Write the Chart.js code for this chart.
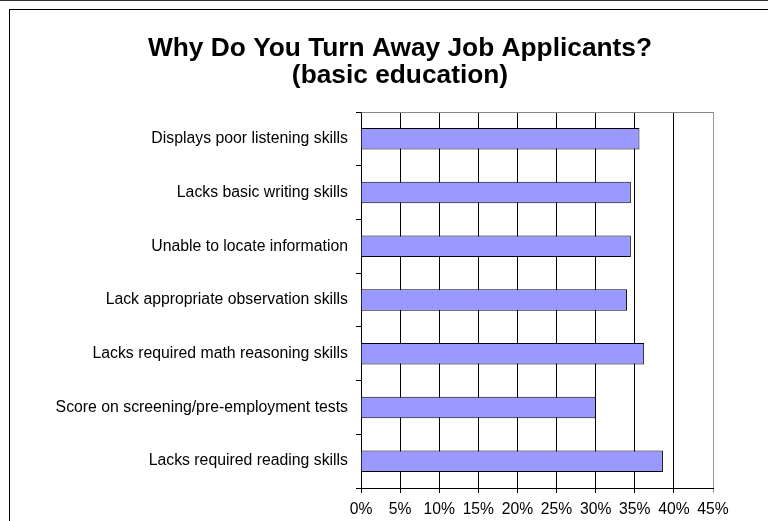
<!DOCTYPE html>
<html>
<head>
<meta charset="utf-8">
<script src="https://cdn.jsdelivr.net/npm/chart.js@4"></script>
<style>
  html, body { margin: 0; padding: 0; width: 768px; height: 521px; overflow: hidden; background: #fff; }
  #topline { position: absolute; left: 0; top: 0; width: 768px; height: 1px; background: #333; }
  #frame { position: absolute; left: 9px; top: 9px; width: 800px; height: 560px; border-left: 1px solid #000; border-top: 1px solid #000; }
  #wrap { position: absolute; left: 10px; top: 10px; width: 780px; height: 511px; }
</style>
</head>
<body>
<div id="topline"></div>
<div id="frame"></div>
<div id="wrap"><canvas id="c"></canvas></div>
<script>
const categories = [
  "Displays poor listening skills",
  "Lacks basic writing skills",
  "Unable to locate information",
  "Lack appropriate observation skills",
  "Lacks required math reasoning skills",
  "Score on screening/pre-employment tests",
  "Lacks required reading skills"
];
const values = [35.6, 34.5, 34.5, 34.0, 36.2, 30.0, 38.6];
const titleLines = ["Why Do You Turn Away Job Applicants?", "(basic education)"];
const xTicks = [0, 5, 10, 15, 20, 25, 30, 35, 40, 45];

const FONT = "'Liberation Sans', Arial, sans-serif";

const plotBorder = {
  id: 'plotBorder',
  afterDatasetsDraw(chart) {
    const { ctx, chartArea: a } = chart;
    ctx.save();
    ctx.strokeStyle = '#888';
    ctx.lineWidth = 1;
    ctx.beginPath();
    ctx.moveTo(Math.round(a.left) + 0.5, Math.round(a.top) + 0.5);
    ctx.lineTo(Math.round(a.right) + 0.5, Math.round(a.top) + 0.5);
    ctx.stroke();
    ctx.restore();
  }
};

// center the title across the whole canvas rather than the padded box
const titleCenter = {
  id: 'titleCenter',
  afterLayout(chart) {
    const t = chart.titleBlock;
    if (!t) return;
    const delta = chart.width / 2 - (t.left + t.right) / 2;
    t.left += delta;
    t.right += delta;
  }
};

new Chart(document.getElementById('c'), {
  type: 'bar',
  data: {
    labels: categories,
    datasets: [{
      data: values,
      backgroundColor: '#9999FF',
      borderColor: '#000000',
      borderWidth: 1,
      barPercentage: 0.4,
      categoryPercentage: 1.0
    }]
  },
  options: {
    indexAxis: 'y',
    responsive: true,
    maintainAspectRatio: false,
    animation: false,
    layout: { padding: { left: 0, right: 77, top: 0, bottom: 0 } },
    plugins: {
      legend: { display: false },
      tooltip: { enabled: false },
      title: {
        display: true,
        text: titleLines,
        color: '#000',
        font: { family: FONT, size: 26.3, weight: 'bold', lineHeight: 1.0 },
        padding: { top: 26, bottom: 23.4 }
      }
    },
    scales: {
      x: {
        min: 0, max: 45,
        afterBuildTicks(scale) { scale.ticks = xTicks.map(v => ({ value: v })); },
        afterFit(scale) { scale.height = 33; },
        ticks: {
          color: '#000',
          font: { family: FONT, size: 15.7 },
          padding: 7,
          maxRotation: 0,
          callback: v => v + '%'
        },
        grid: {
          color: ctx => (ctx.tick && ctx.tick.value === 45) ? '#999' : '#000',
          lineWidth: 1,
          tickLength: 5,
          drawTicks: true
        },
        border: { display: true, color: '#000', width: 1 }
      },
      y: {
        afterFit(scale) { scale.width = 351; },
        ticks: {
          color: '#000',
          font: { family: FONT, size: 15.8 },
          padding: 8
        },
        grid: {
          offset: true,
          drawOnChartArea: false,
          drawTicks: true,
          tickLength: 5,
          color: '#000'
        },
        border: { display: true, color: '#000', width: 1 }
      }
    }
  },
  plugins: [plotBorder, titleCenter]
});
</script>
</body>
</html>
